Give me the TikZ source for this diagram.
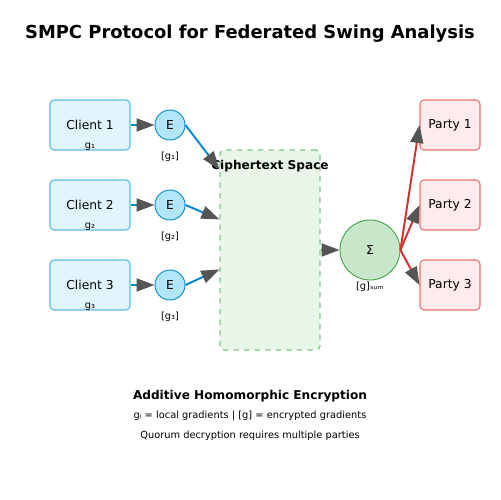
\documentclass[tikz,border=0pt]{standalone}
\usepackage{fontspec}
\setmainfont{DejaVu Sans}
\usepackage{tikz}
\usetikzlibrary{arrows.meta,positioning}
\definecolor{clientfill}{HTML}{E1F5FE}
\definecolor{clientline}{HTML}{5BB8E8}
\definecolor{encfill}{HTML}{B3E5FC}
\definecolor{encline}{HTML}{0288D1}
\definecolor{ciphfill}{HTML}{E8F5E9}
\definecolor{ciphline}{HTML}{81C784}
\definecolor{sumfill}{HTML}{C8E6C9}
\definecolor{sumline}{HTML}{43A047}
\definecolor{partyfill}{HTML}{FFEBEE}
\definecolor{partyline}{HTML}{E57373}
\definecolor{partyarrow}{HTML}{D32F2F}
\definecolor{headgray}{HTML}{555555}

\begin{document}
\begin{tikzpicture}[x=0.02cm,y=-0.02cm,
  client/.style={draw=clientline,fill=clientfill,line width=0.6pt,rounded corners=2.3pt,
    minimum width=1.6cm,minimum height=1cm,font=\fontsize{7}{8}\selectfont},
  party/.style={draw=partyline,fill=partyfill,line width=0.6pt,rounded corners=2.3pt,
    minimum width=1.2cm,minimum height=1cm,font=\fontsize{7}{8}\selectfont},
  enc/.style={circle,draw=encline,fill=encfill,line width=0.5pt,minimum size=0.6cm,inner sep=0pt,
    font=\fontsize{7}{8}\selectfont},
  small/.style={font=\fontsize{5.6}{6}\selectfont,inner sep=0pt},
  flow/.style={line width=1.1pt,-{Triangle[length=0.36cm,width=0.26cm,color=headgray]}}]
  \useasboundingbox[fill=white] (0,0) rectangle (500,500);

  \node[font=\bfseries\fontsize{10.2}{12}\selectfont] (title) at (250,34) {SMPC Protocol for Federated Swing Analysis};

  % clients
  \node[client] (c1) at (90,125) {Client 1};
  \node[client] (c2) at (90,205) {Client 2};
  \node[client] (c3) at (90,285) {Client 3};
  \node[small] (g1) at (90,147) {g₁};
  \node[small] (g2) at (90,227) {g₂};
  \node[small] (g3) at (90,307) {g₃};

  % encryption
  \node[enc] (e1) at (170,125) {E};
  \node[enc] (e2) at (170,205) {E};
  \node[enc] (e3) at (170,285) {E};
  \node[small] (eg1) at (170,157) {[g₁]};
  \node[small] (eg2) at (170,237) {[g₂]};
  \node[small] (eg3) at (170,317) {[g₃]};

  % ciphertext space
  \node[draw=ciphline,fill=ciphfill,dashed,line width=0.7pt,rounded corners=2.3pt,
    minimum width=2cm,minimum height=4cm] (cipher) at (270,250) {};
  \node[font=\bfseries\fontsize{6.9}{8}\selectfont] (ctitle) at (270,166) {Ciphertext Space};
  \coordinate (in1) at ([yshift=-0.4cm]cipher.north west);
  \coordinate (in2) at ([yshift=-1.4cm]cipher.north west);
  \coordinate (in3) at ([yshift=-2.4cm]cipher.north west);

  % aggregation
  \node[circle,draw=sumline,fill=sumfill,line width=0.5pt,minimum size=1.2cm,inner sep=0pt,
    font=\fontsize{7}{8}\selectfont] (sum) at (370,250) {Σ};
  \node[small] (gsum) at (370,287) {[g]ₛᵤₘ};

  % parties
  \node[party] (p1) at (450,125) {Party 1};
  \node[party] (p2) at (450,205) {Party 2};
  \node[party] (p3) at (450,285) {Party 3};

  \draw[flow,encline] (c1.east) -- (e1.west);
  \draw[flow,encline] (c2.east) -- (e2.west);
  \draw[flow,encline] (c3.east) -- (e3.west);
  \draw[flow,encline] (e1.east) -- (in1);
  \draw[flow,encline] (e2.east) -- (in2);
  \draw[flow,encline] (e3.east) -- (in3);
  \draw[flow,sumline] (cipher.east) -- (sum.west);
  \draw[flow,partyarrow] (sum.east) -- (p1.west);
  \draw[flow,partyarrow] (sum.east) -- (p2.west);
  \draw[flow,partyarrow] (sum.east) -- (p3.west);

  % legend
  \node[font=\bfseries\fontsize{6.9}{8}\selectfont] (leg1) at (250,396) {Additive Homomorphic Encryption};
  \node[small] (leg2) at (250,416) {gᵢ = local gradients | [g] = encrypted gradients};
  \node[small] (leg3) at (250,436) {Quorum decryption requires multiple parties};
\end{tikzpicture}
\end{document}
